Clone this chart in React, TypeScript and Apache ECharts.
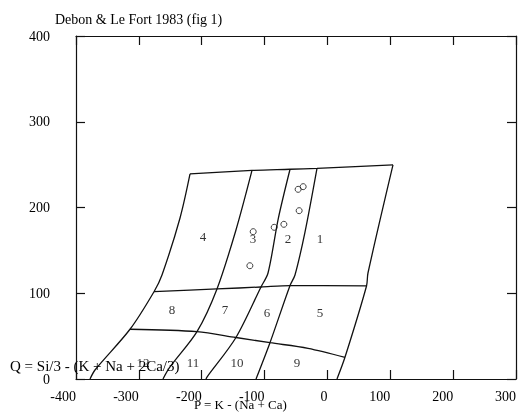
import React, { useEffect, useRef } from "react";
import * as echarts from "echarts";

const TITLE = "Debon & Le Fort 1983 (fig 1)";
const X_NAME = "P = K - (Na + Ca)";
const Y_NAME = "Q = Si/3 - (K + Na + 2Ca/3)";

const X_MIN = -400;
const X_MAX = 300;
const Y_MIN = 0;
const Y_MAX = 400;
const STEP = 100;

// Field boundaries of the P–Q diagram, [P, Q]
const topEdge = [[-218.6, 239.1], [-120, 243.2], [-59.5, 244.6], [-16.6, 245.7], [104.3, 249.6]];
const curveA = [[-218.6, 239.1], [-234.5, 187.8], [-263.2, 121.3], [-275.9, 101.8], [-314.1, 58.0], [-369.8, 10.5], [-377.7, 0]];
const curveB = [[-120, 243.2], [-145.5, 173.8], [-175.7, 105.0], [-207.5, 55.2], [-250.5, 14.0], [-261.6, 0]];
const curveC = [[-59.5, 244.6], [-78.1, 187.4], [-94.5, 123.6], [-105.7, 107.3], [-145.5, 48.4], [-191.6, 2.3], [-193.2, 0]];
const curveD = [[-16.6, 245.7], [-35.7, 171.4], [-51.6, 121.3], [-59.5, 109.0], [-91.4, 42.3], [-113.6, 0]];
const curveE = [[104.3, 249.6], [64.5, 123.6], [62.2, 108.5], [27.9, 25.3], [15.2, 0]];
const lineH1 = [[-275.9, 101.8], [-175.7, 105.0], [-105.7, 107.3], [-59.5, 109.0], [62.2, 108.5]];
const lineH2 = [[-314.1, 58.0], [-207.5, 55.2], [-145.5, 48.4], [-91.4, 42.3], [-30.9, 35.8], [27.9, 25.3]];

// Field numbers and where they are written
const fieldNames = ["1", "2", "3", "4", "5", "6", "7", "8", "9", "10", "11", "12"];
const fieldP = [-11.8, -62.7, -118.4, -198, -11.8, -96.1, -163, -247.3, -48.4, -143.9, -213.9, -293.4];
const fieldQ = [164.4, 164.4, 164.4, 165.6, 78.1, 78.1, 80.5, 80.5, 19.8, 19.8, 19.8, 19.8];

// Sample points
const sampleP = [-46.6, -38.6, -45.0, -84.7, -69.3, -123.4, -118.1];
const sampleQ = [221.2, 224.3, 196.3, 176.9, 180.4, 132.1, 171.8];

const SERIF = '"Liberation Serif", "Times New Roman", serif';
const INK = "#111111";
const TEXT = "#000000";

export default function App() {
  const ref = useRef<HTMLDivElement>(null);

  useEffect(() => {
    if (!ref.current) return;
    const chart = echarts.init(ref.current, null, { renderer: "svg" });

    const boundaries = [topEdge, curveA, curveB, curveC, curveD, curveE, lineH1, lineH2];
    const lineSeries = boundaries.map((pts) => ({
      type: "line",
      data: pts,
      symbol: "none",
      smooth: 0.3,
      lineStyle: { color: INK, width: 1.3 },
      silent: true,
      z: 2,
    }));

    const axisLine = { show: true, onZero: false, lineStyle: { color: INK, width: 1.2 } };
    const axisTick = { show: true, inside: true, length: 9, lineStyle: { color: INK, width: 1.2 } };

    chart.setOption({
      animation: false,
      backgroundColor: "#ffffff",
      title: {
        text: TITLE,
        left: 55,
        top: 12,
        padding: 0,
        textStyle: { fontFamily: SERIF, fontSize: 14, fontWeight: "normal", color: TEXT },
      },
      grid: { left: 76, right: 5, top: 36, bottom: 34, containLabel: false },
      xAxis: [
        {
          type: "value",
          min: X_MIN,
          max: X_MAX,
          interval: STEP,
          position: "bottom",
          axisLine,
          axisTick,
          splitLine: { show: false },
          axisLabel: {
            show: true,
            align: "right",
            margin: 10,
            fontFamily: SERIF,
            fontSize: 14,
            color: TEXT,
          },
        },
        {
          type: "value",
          min: X_MIN,
          max: X_MAX,
          interval: STEP,
          position: "top",
          axisLine,
          axisTick,
          splitLine: { show: false },
          axisLabel: { show: false },
        },
      ],
      yAxis: [
        {
          type: "value",
          min: Y_MIN,
          max: Y_MAX,
          interval: STEP,
          position: "left",
          axisLine,
          axisTick,
          splitLine: { show: false },
          axisLabel: {
            show: true,
            margin: 26,
            fontFamily: SERIF,
            fontSize: 14,
            color: TEXT,
          },
        },
        {
          type: "value",
          min: Y_MIN,
          max: Y_MAX,
          interval: STEP,
          position: "right",
          axisLine,
          axisTick,
          splitLine: { show: false },
          axisLabel: { show: false },
        },
      ],
      graphic: [
        {
          type: "text",
          left: 10,
          top: 358,
          z: 10,
          style: { text: Y_NAME, font: `15px ${SERIF}`, fill: TEXT },
        },
        {
          type: "text",
          left: 194,
          top: 398,
          z: 10,
          style: { text: X_NAME, font: `13px ${SERIF}`, fill: TEXT },
        },
      ],
      series: [
        ...lineSeries,
        {
          type: "scatter",
          data: fieldNames.map((n, i) => ({ name: n, value: [fieldP[i], fieldQ[i]] })),
          symbolSize: 0,
          itemStyle: { color: INK },
          silent: true,
          label: {
            show: true,
            position: [0, 0],
            align: "center",
            verticalAlign: "middle",
            formatter: (p: any) => p.name,
            fontFamily: SERIF,
            fontSize: 13,
            color: TEXT,
            textBorderWidth: 0,
          },
          z: 3,
        },
        {
          type: "scatter",
          data: sampleP.map((p, i) => [p, sampleQ[i]]),
          symbol: "circle",
          symbolSize: 6,
          itemStyle: { color: "rgba(255,255,255,0)", borderColor: INK, borderWidth: 1 },
          z: 4,
        },
      ],
    });

    return () => chart.dispose();
  }, []);

  return (
    <div
      ref={ref}
      style={{
        position: "absolute",
        left: 0,
        top: 0,
        width: 521,
        height: 413,
        filter: "grayscale(1)",
      }}
    />
  );
}
